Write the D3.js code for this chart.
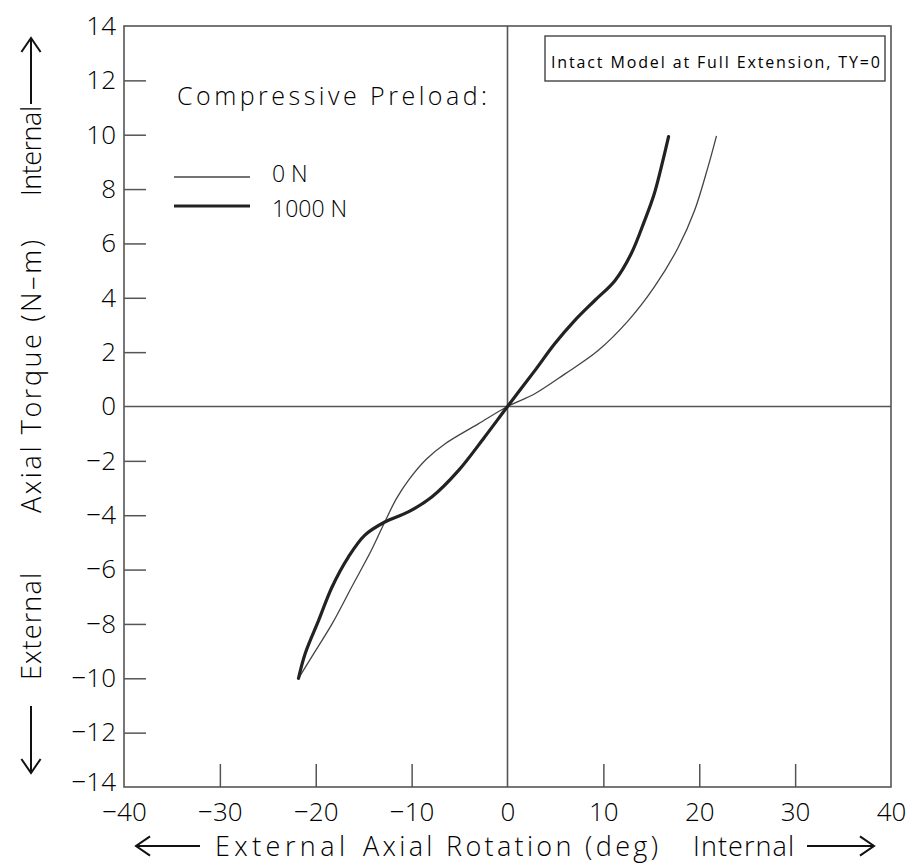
<!DOCTYPE html>
<html>
<head>
<meta charset="utf-8">
<script src="https://cdn.jsdelivr.net/npm/d3@7"></script>
<style>
  html, body { margin: 0; padding: 0; background: #fff; }
  svg text { font-family: "Open Sans", "DejaVu Sans", sans-serif; font-weight: 300; fill: #000; }
</style>
</head>
<body>
<svg id="chart" width="909" height="863"></svg>
<script>
// ---- data ----
const xTicks = [-40, -30, -20, -10, 0, 10, 20, 30, 40];
const yTicks = [-14, -12, -10, -8, -6, -4, -2, 0, 2, 4, 6, 8, 10, 12, 14];

const rot0N = [-21.8, -20.4, -18.3, -16.25, -14.2, -12.8, -11.6, -10.3, -8.5, -6.5, -3.05, 0, 2.85, 6.0, 9.45, 12.6, 15.3, 17.8, 19.5, 20.9, 21.8];
const torque0N = [-10.0, -9.2, -8.0, -6.64, -5.29, -4.25, -3.4, -2.7, -1.95, -1.37, -0.64, 0, 0.47, 1.2, 2.06, 3.16, 4.39, 5.85, 7.2, 8.8, 9.96];

const rot1000N = [-21.8, -21.1, -19.7, -18.3, -16.6, -14.9, -12.8, -10.35, -7.9, -5.1, -2.4, 0, 2.85, 4.9, 7.0, 9.1, 11.2, 12.9, 14.3, 15.3, 16.2, 16.8];
const torque1000N = [-10.0, -9.09, -7.87, -6.64, -5.54, -4.74, -4.25, -3.88, -3.33, -2.35, -1.13, 0, 1.32, 2.30, 3.16, 3.90, 4.63, 5.62, 6.84, 7.82, 9.04, 9.93];

const seriesNames = ["0  N", "1000  N"];
const legendTitle = "Compressive  Preload:";
const boxTitle = "Intact Model at Full Extension, TY=0";

// ---- layout ----
const svg = d3.select("#chart");
const L = 124, R = 891, T = 26, B = 787;
const x = d3.scaleLinear().domain([-40, 40]).range([L, R]);
const y = d3.scaleLinear().domain([-14, 14]).range([B, T]);

// frame
svg.append("rect").attr("x", L).attr("y", T).attr("width", R - L).attr("height", B - T)
  .attr("fill", "none").attr("stroke", "#555").attr("stroke-width", 1.6);

// zero lines
svg.append("line").attr("x1", L).attr("x2", R).attr("y1", y(0)).attr("y2", y(0))
  .attr("stroke", "#555").attr("stroke-width", 1.6);
svg.append("line").attr("x1", x(0)).attr("x2", x(0)).attr("y1", T).attr("y2", B)
  .attr("stroke", "#555").attr("stroke-width", 1.6);

// axes (inward ticks)
const fmt = d => (d < 0 ? "\u2212" + Math.abs(d) : String(d));
const xAxis = svg.append("g").attr("transform", `translate(0,${B})`)
  .call(d3.axisBottom(x).tickValues(xTicks).tickSizeInner(-23).tickSizeOuter(0).tickPadding(30).tickFormat(fmt));
const yAxis = svg.append("g").attr("transform", `translate(${L},0)`)
  .call(d3.axisLeft(y).tickValues(yTicks).tickSizeInner(-22).tickSizeOuter(0).tickPadding(31).tickFormat(fmt));
[xAxis, yAxis].forEach(g => {
  g.select(".domain").remove();
  g.selectAll(".tick line").attr("stroke", "#555").attr("stroke-width", 1.5);
  g.selectAll(".tick text").attr("font-size", 26).attr("fill", "#000")
    .style("font-family", '"Open Sans", "DejaVu Sans", sans-serif').style("font-weight", 300);
});
// hide tick marks that fall on the frame edges / zero lines
xAxis.selectAll(".tick").filter(d => d === -40 || d === 40 || d === 0).select("line").remove();
yAxis.selectAll(".tick").filter(d => d === -14 || d === 14 || d === 0).select("line").remove();
xAxis.selectAll(".tick text").attr("dy", "0.35em").attr("y", 25);
yAxis.selectAll(".tick text").attr("x", -8);
yAxis.selectAll(".tick").filter(d => d === -14).select("text").attr("y", -5);

// curves
const line = d3.line().x(d => x(d[0])).y(d => y(d[1])).curve(d3.curveCatmullRom.alpha(0.5));
const d0 = rot0N.map((v, i) => [v, torque0N[i]]);
const d1 = rot1000N.map((v, i) => [v, torque1000N[i]]);
svg.append("path").attr("d", line(d0)).attr("fill", "none").attr("stroke", "#444").attr("stroke-width", 1.3);
svg.append("path").attr("d", line(d1)).attr("fill", "none").attr("stroke", "#222").attr("stroke-width", 3.2)
  .attr("stroke-linejoin", "round").attr("stroke-linecap", "round");

// legend
svg.append("text").attr("x", 177).attr("y", 105).attr("font-size", 25)
  .attr("textLength", 310).attr("lengthAdjust", "spacing").text(legendTitle);
const legY = [177, 206];
const legTY = [174, 209];
const legW = [1.3, 3.2];
seriesNames.forEach((name, i) => {
  svg.append("line").attr("x1", 174).attr("x2", 250).attr("y1", legY[i]).attr("y2", legY[i])
    .attr("stroke", i ? "#222" : "#444").attr("stroke-width", legW[i]);
  svg.append("text").attr("x", 272).attr("y", legTY[i]).attr("dy", "0.36em").attr("font-size", 23).text(name);
});

// title box
svg.append("rect").attr("x", 545).attr("y", 36).attr("width", 340).attr("height", 45)
  .attr("fill", "none").attr("stroke", "#444").attr("stroke-width", 1.4);
svg.append("text").attr("x", 551).attr("y", 62).attr("dy", "0.35em").attr("font-size", 16)
  .style("font-weight", 400).attr("fill", "#111")
  .attr("textLength", 329).attr("lengthAdjust", "spacing").text(boxTitle);

// arrow helper
function arrow(x1, y1, x2, y2) {
  const ang = Math.atan2(y2 - y1, x2 - x1), h = 17, s = 0.6;
  svg.append("path")
    .attr("d", `M${x1},${y1}L${x2},${y2}M${x2 - h * Math.cos(ang - s)},${y2 - h * Math.sin(ang - s)}L${x2},${y2}L${x2 - h * Math.cos(ang + s)},${y2 - h * Math.sin(ang + s)}`)
    .attr("fill", "none").attr("stroke", "#111").attr("stroke-width", 2);
}

// x axis title
const xt = 846;
arrow(200, xt, 136, xt);
svg.append("text").attr("x", 215).attr("y", xt).attr("dy", "0.36em").attr("font-size", 27)
  .attr("textLength", 130).attr("lengthAdjust", "spacing").text("External");
svg.append("text").attr("x", 363).attr("y", xt).attr("dy", "0.36em").attr("font-size", 27)
  .attr("textLength", 295).attr("lengthAdjust", "spacing").text("Axial Rotation (deg)");
svg.append("text").attr("x", 693).attr("y", xt).attr("dy", "0.36em").attr("font-size", 27)
  .attr("textLength", 101).attr("lengthAdjust", "spacing").text("Internal");
arrow(807, xt, 874, xt);

// y axis title (rotated)
const yt = 31;
const ytxt = (cy, len, s) => svg.append("text").attr("transform", `translate(${yt},${cy}) rotate(-90)`)
  .attr("dy", "0.36em").attr("font-size", 27).attr("text-anchor", "start")
  .attr("textLength", len).attr("lengthAdjust", "spacing").text(s);
ytxt(513, 273, "Axial Torque (N\u2013m)");
ytxt(196, 90, "Internal");
arrow(yt, 104, yt, 38);
ytxt(680, 107, "External");
arrow(yt, 706, yt, 773);
</script>
</body>
</html>
